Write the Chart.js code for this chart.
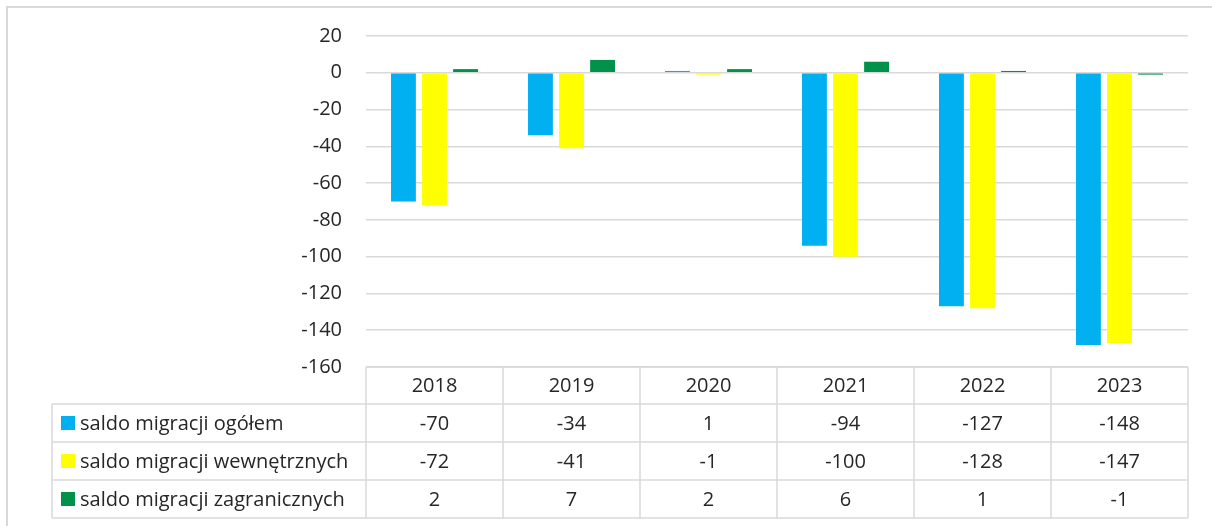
<!DOCTYPE html>
<html lang="pl">
<head>
<meta charset="UTF-8">
<title>Saldo migracji</title>
<script src="https://cdn.jsdelivr.net/npm/chart.js"></script>
<style>
  html, body { margin: 0; padding: 0; background: #fff; }
  #wrap { width: 1212px; height: 526px; position: relative; }
</style>
</head>
<body>
<div id="wrap"><canvas id="chart" width="1212" height="526"></canvas></div>
<script>
// data
const years = ['2018', '2019', '2020', '2021', '2022', '2023'];
const seriesNames = ['saldo migracji ogółem', 'saldo migracji wewnętrznych', 'saldo migracji zagranicznych'];
const ogolem = [-70, -34, 1, -94, -127, -148];
const wewnetrzne = [-72, -41, -1, -100, -128, -147];
const zagraniczne = [2, 7, 2, 6, 1, -1];
const colors = ['#00B0F0', '#FFFF00', '#00914A'];

const FONT = '20px "Open Sans"';
const TEXT = '#262626';
const LINE = '#d9d9d9';

// data table under the plot, aligned to the category scale
const tablePlugin = {
  id: 'dataTable',
  beforeDraw(chart) {
    const ctx = chart.ctx;
    ctx.save();
    ctx.strokeStyle = LINE;
    ctx.lineWidth = 2;
    ctx.beginPath();
    ctx.moveTo(7, 526);
    ctx.lineTo(7, 7);
    ctx.lineTo(1212, 7);
    ctx.stroke();
    ctx.restore();
  },
  afterDraw(chart) {
    const ctx = chart.ctx;
    const x = chart.scales.x;
    const area = chart.chartArea;
    const top = area.bottom;
    const rows = [top, top + 37, top + 75, top + 113, top + 151];
    const half = (x.getPixelForValue(1) - x.getPixelForValue(0)) / 2;
    const left = area.left, right = area.right, legendLeft = 52;
    const data = [ogolem, wewnetrzne, zagraniczne];

    ctx.save();
    ctx.strokeStyle = LINE;
    ctx.lineWidth = 1.5;
    ctx.beginPath();
    // header top
    ctx.moveTo(left, rows[0]); ctx.lineTo(right, rows[0]);
    for (let r = 1; r < rows.length; r++) {
      ctx.moveTo(legendLeft, rows[r]); ctx.lineTo(right, rows[r]);
    }
    ctx.moveTo(legendLeft, rows[1]); ctx.lineTo(legendLeft, rows[4]);
    for (let i = 0; i <= years.length; i++) {
      const px = i < years.length ? x.getPixelForValue(i) - half : x.getPixelForValue(years.length - 1) + half;
      ctx.moveTo(px, rows[0]); ctx.lineTo(px, rows[4]);
    }
    ctx.stroke();

    ctx.font = FONT;
    ctx.fillStyle = TEXT;
    ctx.textAlign = 'center';
    ctx.textBaseline = 'middle';
    years.forEach((y, i) => {
      ctx.fillText(y, x.getPixelForValue(i), (rows[0] + rows[1]) / 2 + 1);
    });
    data.forEach((vals, s) => {
      const cy = (rows[s + 1] + rows[s + 2]) / 2 + 1;
      vals.forEach((v, i) => {
        ctx.fillText(String(v), x.getPixelForValue(i), cy);
      });
    });
    ctx.textAlign = 'left';
    seriesNames.forEach((name, s) => {
      const cy = (rows[s + 1] + rows[s + 2]) / 2;
      ctx.fillStyle = colors[s];
      ctx.fillRect(61, cy - 7, 14, 14);
      ctx.fillStyle = TEXT;
      ctx.fillText(name, 80, cy + 1);
    });
    ctx.restore();
  }
};

new Chart(document.getElementById('chart'), {
  type: 'bar',
  data: {
    labels: years,
    datasets: [
      { label: seriesNames[0], data: ogolem, backgroundColor: colors[0] },
      { label: seriesNames[1], data: wewnetrzne, backgroundColor: colors[1] },
      { label: seriesNames[2], data: zagraniczne, backgroundColor: colors[2] }
    ]
  },
  options: {
    responsive: false,
    animation: false,
    layout: { padding: { top: 36, right: 24, bottom: 159, left: 0 } },
    datasets: { bar: { categoryPercentage: 0.68, barPercentage: 0.8 } },
    plugins: { legend: { display: false }, tooltip: { enabled: false } },
    scales: {
      x: { display: false },
      y: {
        min: -160,
        max: 20,
        afterFit(scale) { scale.width = 366; },
        ticks: { stepSize: 20, padding: 24, color: TEXT, font: { family: 'Open Sans', size: 20 } },
        grid: { color: LINE, lineWidth: 1.5, drawTicks: false },
        border: { display: false }
      }
    }
  },
  plugins: [tablePlugin]
});
</script>
</body>
</html>
